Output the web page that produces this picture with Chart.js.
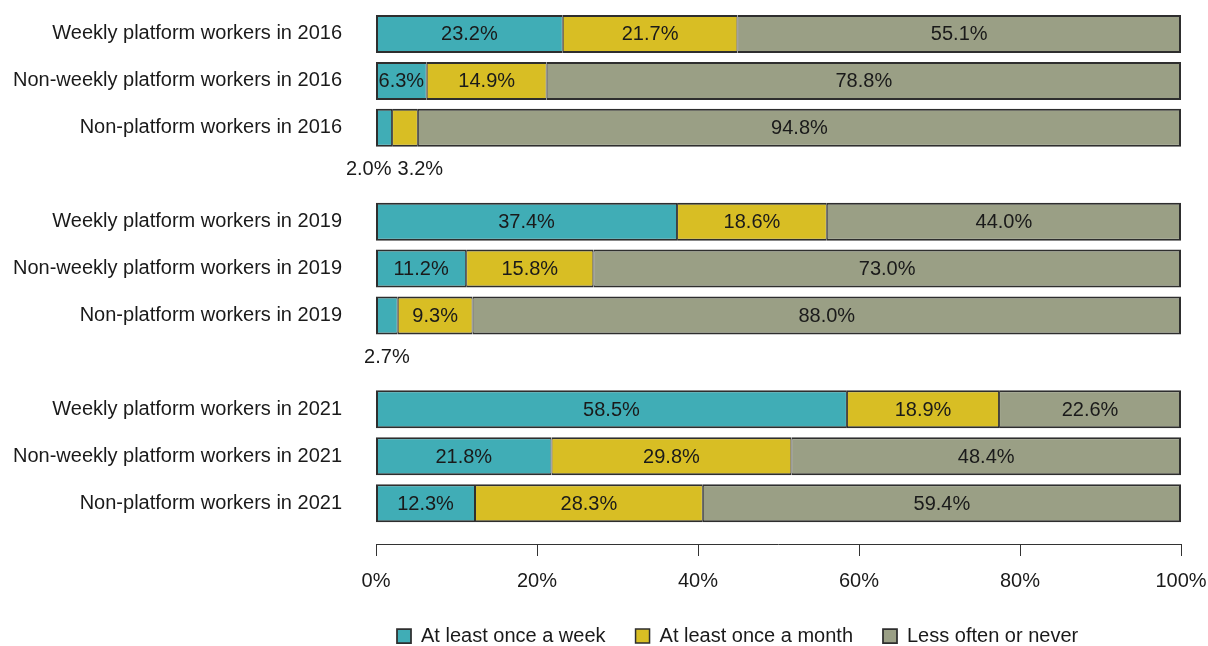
<!DOCTYPE html>
<html>
<head>
<meta charset="utf-8">
<script src="https://cdn.jsdelivr.net/npm/chart.js@4.4.1/dist/chart.umd.min.js"></script>
<style>
  html, body { margin: 0; padding: 0; background: #fff; }
  #wrap { width: 1208px; height: 646px; }
</style>
</head>
<body>
<div id="wrap"><canvas id="chart" width="1208" height="646"></canvas></div>
<script>
// rows (empty strings are the gaps between survey years)
const groups = [
    'Weekly platform workers in 2016',
    'Non-weekly platform workers in 2016',
    'Non-platform workers in 2016',
    '',
    'Weekly platform workers in 2019',
    'Non-weekly platform workers in 2019',
    'Non-platform workers in 2019',
    '',
    'Weekly platform workers in 2021',
    'Non-weekly platform workers in 2021',
    'Non-platform workers in 2021'
];
const seriesNames = ['At least once a week', 'At least once a month', 'Less often or never'];
const weekly  = [23.2, 6.3, 2.0, null, 37.4, 11.2, 2.7, null, 58.5, 21.8, 12.3];
const monthly = [21.7, 14.9, 3.2, null, 18.6, 15.8, 9.3, null, 18.9, 29.8, 28.3];
const rarely  = [55.1, 78.8, 94.8, null, 44.0, 73.0, 88.0, null, 22.6, 48.4, 59.4];
const xTicks = [0, 20, 40, 60, 80, 100];

const colors = ['#40adb6', '#d8be24', '#9a9f85'];
const font = "'Liberation Sans', Arial, sans-serif";
const fontSize = 20;
const textColor = '#1a1a1a';

// outer edges a bit heavier, so every bar gets an even ~2px outline
const borders = [
    { top: 2, bottom: 2, left: 2, right: 1 },
    { top: 2, bottom: 2, left: 1, right: 1 },
    { top: 2, bottom: 2, left: 1, right: 2 }
];

// axis line detached below the bars, like base R graphics
const detachedAxis = {
    id: 'detachedAxis',
    afterDraw(chart) {
        const ctx = chart.ctx, x = chart.scales.x;
        const y = Math.round(chart.chartArea.bottom + 17);
        ctx.save();
        ctx.strokeStyle = '#333';
        ctx.lineWidth = 1;
        ctx.beginPath();
        ctx.moveTo(x.getPixelForValue(0), y + 0.5);
        ctx.lineTo(x.getPixelForValue(100), y + 0.5);
        xTicks.forEach(t => {
            const px = Math.round(x.getPixelForValue(t)) + 0.5;
            ctx.moveTo(px, y);
            ctx.lineTo(px, y + 12);
        });
        ctx.stroke();
        ctx.restore();
    }
};

// nudge the legend a little left of the plot's left edge
const legendShift = {
    id: 'legendShift',
    afterLayout(chart) {
        if (chart.legend) {
            chart.legend.left -= 9;
            chart.legend.right -= 9;
        }
    }
};

// value labels: inside the segment, or below the bar when it is too narrow
const valueLabels = {
    id: 'valueLabels',
    afterDatasetsDraw(chart) {
        const ctx = chart.ctx;
        ctx.save();
        ctx.font = fontSize + 'px ' + font;
        ctx.fillStyle = textColor;
        ctx.textAlign = 'center';
        ctx.textBaseline = 'middle';
        const below = {};
        chart.data.datasets.forEach((ds, di) => {
            chart.getDatasetMeta(di).data.forEach((bar, i) => {
                const v = ds.data[i];
                if (v === null) return;
                const txt = v.toFixed(1) + '%';
                const cx = (bar.x + bar.base) / 2;
                if (v >= 5) {
                    ctx.fillText(txt, cx, bar.y + 1);
                } else {
                    (below[i] = below[i] || []).push({ txt, cx, y: bar.y + bar.height / 2 + 23 });
                }
            });
        });
        Object.values(below).forEach(items => {
            const w = items.map(it => ctx.measureText(it.txt).width);
            for (let k = 1; k < items.length; k++) {
                const need = (w[k - 1] + w[k]) / 2 + 6;
                const gap = items[k].cx - items[k - 1].cx;
                if (gap < need) {
                    const shift = (need - gap) / 2;
                    items[k - 1].cx -= shift;
                    items[k].cx += shift;
                }
            }
            items.forEach(it => ctx.fillText(it.txt, it.cx, it.y));
        });
        ctx.restore();
    }
};

new Chart(document.getElementById('chart'), {
    type: 'bar',
    data: {
        labels: groups,
        datasets: [weekly, monthly, rarely].map((d, i) => ({
            label: seriesNames[i],
            data: d,
            backgroundColor: colors[i],
            borderColor: '#2e2e2e',
            borderWidth: borders[i],
            borderSkipped: false,
            categoryPercentage: 1,
            barPercentage: 0.81
        }))
    },
    options: {
        indexAxis: 'y',
        responsive: false,
        animation: false,
        layout: { padding: { top: 10.5, right: 27, left: 0, bottom: -10 } },
        scales: {
            x: {
                stacked: true,
                min: 0,
                max: 100,
                afterBuildTicks: s => { s.ticks = xTicks.map(v => ({ value: v })); },
                afterFit: s => {
                    s.height = 69.4;
                    s.paddingLeft = 0;
                    s.paddingRight = 0;
                },
                grid: { display: false, drawTicks: false },
                border: { display: false },
                ticks: {
                    padding: 43,
                    color: textColor,
                    font: { family: font, size: fontSize },
                    callback: v => v + '%'
                }
            },
            y: {
                stacked: true,
                afterFit: s => {
                    s.width = 376;
                    s.paddingTop = 0;
                    s.paddingBottom = 0;
                },
                grid: { display: false, drawTicks: false },
                border: { display: false },
                ticks: {
                    padding: 34,
                    color: textColor,
                    font: { family: font, size: fontSize }
                }
            }
        },
        plugins: {
            legend: {
                position: 'bottom',
                fullSize: false,
                align: 'start',
                labels: {
                    boxWidth: 14,
                    boxHeight: 14,
                    padding: 30,
                    color: textColor,
                    font: { family: font, size: fontSize }
                }
            },
            tooltip: { enabled: false }
        }
    },
    plugins: [detachedAxis, valueLabels, legendShift]
});
</script>
</body>
</html>
